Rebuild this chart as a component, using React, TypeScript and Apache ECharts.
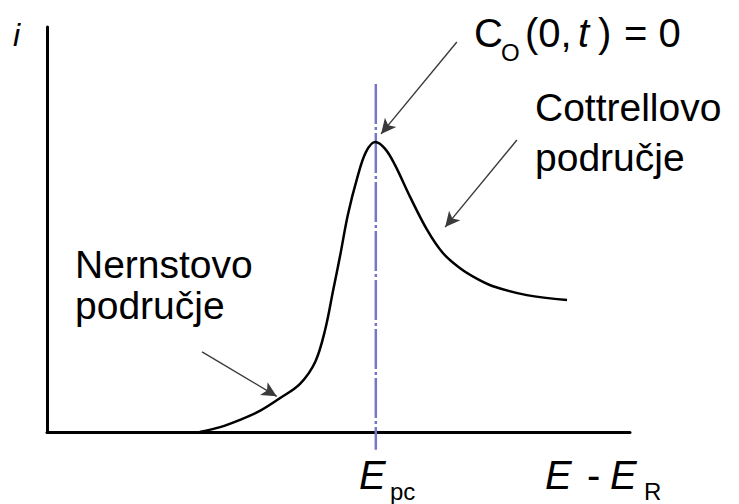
import React, { useEffect, useRef } from "react";
import * as echarts from "echarts";

// Curve (E - E_R, i) in arbitrary units
const curveX = [26.2, 29.7, 33.1, 36.5, 40.0, 43.4, 46.0, 47.7, 49.1, 50.3, 51.6, 53.2, 54.7, 56.3, 58.0, 59.7, 62.3, 65.2, 67.9, 70.8, 73.8, 76.5, 82.3, 89.2];
const curveY = [0, 1.2, 3.0, 5.2, 8.4, 11.9, 17.3, 25.2, 35.1, 43.7, 53.6, 62.7, 69.1, 71.6, 69.9, 65.9, 58.0, 49.9, 44.2, 40.5, 37.8, 36.0, 33.8, 32.6];

// E_pc vertical guide
const epcX = 56.4;
const epcRange = [85.9, -4.4];

// annotation arrows: [fromX, fromY, toX, toY]
const arrowC0 = [70.3, 96.3, 57.3, 73.6];
const arrowCott = [80.6, 72.1, 68.3, 50.6];
const arrowNern = [26.6, 19.8, 39.4, 8.8];

const FONT = "'Liberation Sans', Arial, Helvetica, sans-serif";

export default function App() {
  const ref = useRef<HTMLDivElement>(null);
  useEffect(() => {
    if (!ref.current) return;
    const chart = echarts.init(ref.current, undefined, { renderer: "svg" });
    const arrow = (a: number[]) => [
      { coord: [a[0], a[1]], symbol: "none" },
      { coord: [a[2], a[3]], symbol: "arrow", symbolSize: [11, 15] },
    ];
    const txt = (
      text: string,
      x: number,
      y: number,
      size: number,
      italic = false,
      vAlign = "middle",
      lineHeight?: number
    ) => ({
      type: "text",
      x,
      y,
      style: {
        text,
        fill: "#000",
        font: `${italic ? "italic " : ""}${size}px ${FONT}`,
        verticalAlign: vAlign,
        align: "left",
        lineHeight: lineHeight,
      },
    });
    chart.setOption({
      animation: false,
      backgroundColor: "#fff",
      grid: { left: 47, right: 109, top: 27, bottom: 72 },
      xAxis: {
        type: "value",
        min: 0,
        max: 100,
        axisLine: { show: true, lineStyle: { color: "#000", width: 3 } },
        axisTick: { show: false },
        axisLabel: { show: false },
        splitLine: { show: false },
      },
      yAxis: {
        type: "value",
        min: 0,
        max: 100,
        axisLine: { show: true, lineStyle: { color: "#000", width: 3 } },
        axisTick: { show: false },
        axisLabel: { show: false },
        splitLine: { show: false },
      },
      series: [
        {
          type: "line",
          data: epcRange.map((y) => [epcX, y]),
          clip: false,
          symbol: "none",
          silent: true,
          lineStyle: { color: "#7777c4", width: 2.5, type: [40, 3, 3, 3] },
          z: 1,
        },
        {
          type: "line",
          data: curveX.map((x, i) => [x, curveY[i]]),
          smooth: 0.35,
          symbol: "none",
          silent: true,
          lineStyle: { color: "#000", width: 2.5 },
          z: 2,
          markLine: {
            silent: true,
            label: { show: false },
            lineStyle: { color: "#3a3a3a", width: 1.4, type: "solid" },
            data: [arrow(arrowC0), arrow(arrowCott), arrow(arrowNern)],
          },
        },
      ],
      graphic: [
        txt("i", 13, 35, 32, true),
        txt("C", 474, 33, 40),
        txt("O", 501, 52, 24),
        txt("(0,", 525, 33, 40),
        txt("t", 578, 33, 40, true),
        txt(")", 598, 33, 40),
        txt("= 0", 624, 33, 40),
        txt("Cottrellovo\npodručje", 535, 82, 39, false, "top", 50),
        txt("Nernstovo\npodručje", 75, 244, 39, false, "top", 41),
        txt("E", 359, 475, 40, true),
        txt("pc", 390, 491, 24),
        txt("E", 545, 475, 40, true),
        txt("-", 587, 475, 40),
        txt("E", 610, 475, 40, true),
        txt("R", 644, 491, 24),
      ],
    });
    return () => chart.dispose();
  }, []);
  return (
    <div
      ref={ref}
      style={{ position: "fixed", left: 0, top: 0, width: 739, height: 504 }}
    />
  );
}
